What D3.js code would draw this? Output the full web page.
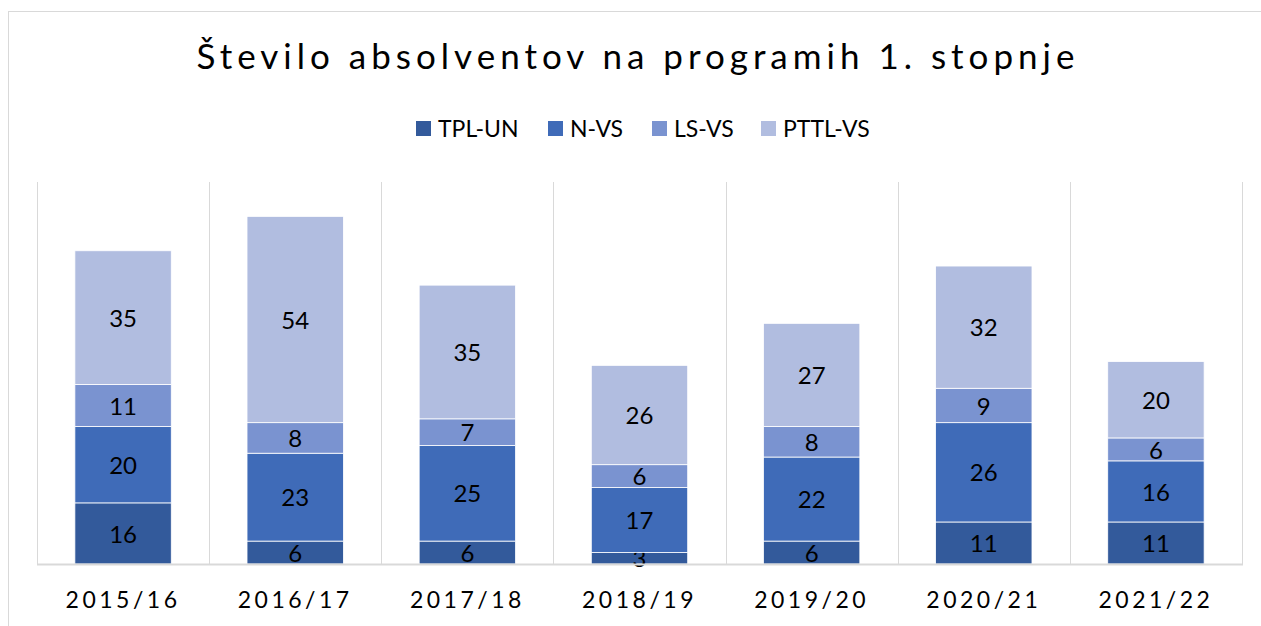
<!DOCTYPE html>
<html>
<head>
<meta charset="utf-8">
<script src="https://cdn.jsdelivr.net/npm/d3@7"></script>
<style>
    body { margin: 0; background: #fff; }
    text { font-family: Lato, "Open Sans", sans-serif; fill: #000; }
</style>
</head>
<body>
<svg id="chart" width="1261" height="626"></svg>
<script>
// data
var years = ["2015/16", "2016/17", "2017/18", "2018/19", "2019/20", "2020/21", "2021/22"];
var seriesNames = ["TPL-UN", "N-VS", "LS-VS", "PTTL-VS"];
var tplUn = [16, 6, 6, 3, 6, 11, 11];
var nVs = [20, 23, 25, 17, 22, 26, 16];
var lsVs = [11, 8, 7, 6, 8, 9, 6];
var pttlVs = [35, 54, 35, 26, 27, 32, 20];

var colors = ["#335a9b", "#3f6bb8", "#7a93d0", "#b1bde0"];

var rows = years.map(function (y, i) {
    return { year: y, "TPL-UN": tplUn[i], "N-VS": nVs[i], "LS-VS": lsVs[i], "PTTL-VS": pttlVs[i] };
});

var svg = d3.select("#chart");

// outer chart border
svg.append("rect")
    .attr("x", 8.5).attr("y", 11.5)
    .attr("width", 1270).attr("height", 640)
    .style("fill", "none")
    .style("stroke", "#d9d9d9");

// title
svg.append("text")
    .attr("x", 638).attr("y", 69)
    .attr("text-anchor", "middle")
    .style("font-size", "35px")
    .style("letter-spacing", "5px")
    .text("Število absolventov na programih 1. stopnje");

var plot = { left: 37, right: 1242, top: 182, bottom: 564 };

var xScale = d3.scaleBand()
    .domain(years)
    .range([plot.left, plot.right])
    .paddingInner(0.44)
    .paddingOuter(0.22);

var yScale = d3.scaleLinear()
    .domain([0, 100])
    .range([plot.bottom, plot.top]);

var step = xScale.step();

// vertical separators between categories
var gridX = years.map(function (y) { return xScale(y) + xScale.bandwidth() / 2 - step / 2; });
gridX.push(plot.right);
svg.append("g").selectAll("line")
    .data(gridX)
    .enter()
    .append("line")
    .attr("x1", d => Math.round(d) + 0.5)
    .attr("x2", d => Math.round(d) + 0.5)
    .attr("y1", plot.top)
    .attr("y2", plot.bottom)
    .style("stroke", "#d9d9d9");

// stacked bars
var stacked = d3.stack().keys(seriesNames)(rows);

var layers = svg.append("g").selectAll("g")
    .data(stacked)
    .enter()
    .append("g")
    .style("fill", (d, i) => colors[i]);

layers.selectAll("rect")
    .data(d => d)
    .enter()
    .append("rect")
    .attr("x", d => xScale(d.data.year))
    .attr("width", xScale.bandwidth())
    .attr("y", d => yScale(d[1]))
    .attr("height", d => yScale(d[0]) - yScale(d[1]))
    .style("stroke", "#ffffff")
    .style("stroke-width", 0.8);

// baseline
svg.append("line")
    .attr("x1", plot.left).attr("x2", plot.right + 1)
    .attr("y1", plot.bottom + 0.5).attr("y2", plot.bottom + 0.5)
    .style("stroke", "#d9d9d9")
    .style("stroke-width", 2);

// data labels
layers.selectAll("text")
    .data(d => d.map(v => ({ v: v, val: v[1] - v[0] })))
    .enter()
    .append("text")
    .attr("x", d => xScale(d.v.data.year) + xScale.bandwidth() / 2)
    .attr("y", d => (yScale(d.v[0]) + yScale(d.v[1])) / 2)
    .attr("dy", "0.38em")
    .attr("text-anchor", "middle")
    .style("font-size", "24px")
    .style("fill", "#000")
    .text(d => d.val);

// x axis labels
var xAxis = d3.axisBottom(xScale).tickSize(0).tickPadding(0);
svg.append("g")
    .attr("transform", "translate(0," + plot.bottom + ")")
    .call(xAxis)
    .call(g => g.select(".domain").remove())
    .call(g => g.selectAll(".tick text")
        .attr("y", 44)
        .attr("dy", 0)
        .style("font-family", "Lato, 'Open Sans', sans-serif")
        .style("font-size", "23px")
        .style("letter-spacing", "3.5px")
        .style("fill", "#000"));

// legend
var legendX = [416, 548, 652, 761];
var legend = svg.append("g").selectAll("g")
    .data(seriesNames)
    .enter()
    .append("g")
    .attr("transform", (d, i) => "translate(" + legendX[i] + ",121)");
legend.append("rect")
    .attr("width", 15).attr("height", 15)
    .style("fill", (d, i) => colors[i]);
legend.append("text")
    .attr("x", 22).attr("y", 16)
    .style("font-size", "23px")
    .text(d => d);
</script>
</body>
</html>
